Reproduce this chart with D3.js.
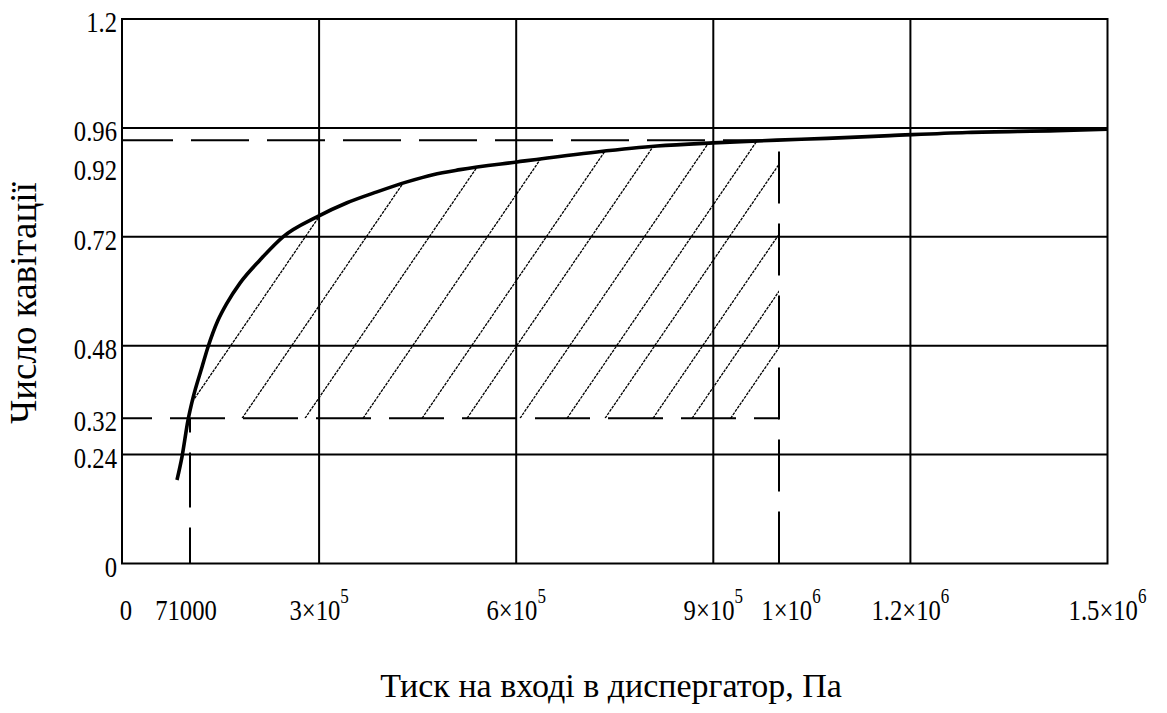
<!DOCTYPE html>
<html>
<head>
<meta charset="utf-8">
<script src="https://cdn.jsdelivr.net/npm/d3@7"></script>
<style>
  body { margin: 0; background: #fff; }
  text { font-family: "Liberation Serif", "Times New Roman", serif; fill: #000; }
</style>
</head>
<body>
<div id="chart"></div>
<script>
// Curve: cavitation number vs inlet pressure
var pressure = [83700, 91300, 100500, 108100, 121800, 130900, 146100, 159800, 179600,
    210100, 245100, 296800, 342500, 388100, 433800, 473400, 514500, 601200, 723000,
    814300, 899500, 996900, 1073000, 1168800, 1286200, 1423200, 1500000];
var cavitation = [0.184, 0.235, 0.316, 0.365, 0.433, 0.477, 0.536, 0.574, 0.618,
    0.669, 0.720, 0.764, 0.795, 0.819, 0.841, 0.857, 0.868, 0.885, 0.907,
    0.920, 0.927, 0.933, 0.937, 0.943, 0.950, 0.954, 0.957];

// Grid lines and their labels
var xGrid = [300000, 600000, 900000, 1200000];
var yGrid = [0.24, 0.48, 0.72, 0.96];
var xTickLabels = [
    {value: 0, base: "0", exp: ""},
    {value: 300000, base: "3×10", exp: "5"},
    {value: 600000, base: "6×10", exp: "5"},
    {value: 900000, base: "9×10", exp: "5"},
    {value: 1200000, base: "1.2×10", exp: "6"},
    {value: 1500000, base: "1.5×10", exp: "6"}
];
var yTickLabels = [
    {value: 0, label: "0"},
    {value: 0.24, label: "0.24"},
    {value: 0.48, label: "0.48"},
    {value: 0.72, label: "0.72"},
    {value: 0.96, label: "0.96"},
    {value: 1.2, label: "1.2"}
];

// Markers bounding the hatched area
var pLow = 103500, pHigh = 1000000;
var kLow = 0.32, kHigh = 0.933;
var xMarkerLabels = [
    {value: pLow, base: "71000", exp: ""},
    {value: pHigh, base: "1×10", exp: "6"}
];
var yMarkerLabels = [
    {value: kLow, label: "0.32"},
    {value: kHigh, label: "0.92"}
];

// Hatch lines: where each one leaves the 0.32 line, and their slope (per Pa)
var hatchStart = [89800, 182700, 278500, 366800, 456600, 525100, 605800, 677300,
    735200, 808200, 867600, 926300];
var hatchSlope = 2.114e-6;

var width = 1167, height = 713;
var margin = {left: 122, right: 1107.5, top: 19, bottom: 563.5};

var svg = d3.select("#chart").append("svg")
    .attr("width", width)
    .attr("height", height);

var x = d3.scaleLinear().domain([0, 1500000]).range([margin.left, margin.right]);
var y = d3.scaleLinear().domain([0, 1.2]).range([margin.bottom, margin.top]);

// grid
svg.selectAll(".vgrid")
    .data(xGrid)
    .enter().append("line")
    .attr("x1", d => x(d)).attr("x2", d => x(d))
    .attr("y1", y(0)).attr("y2", y(1.2))
    .style("stroke", "#000").style("stroke-width", 2);

svg.selectAll(".hgrid")
    .data(yGrid)
    .enter().append("line")
    .attr("x1", x(0)).attr("x2", x(1500000))
    .attr("y1", d => y(d)).attr("y2", d => y(d))
    .style("stroke", "#000").style("stroke-width", 2);

// hatching, clipped to the area under the curve, above 0.32 and left of 1e6
var defs = svg.append("defs");
defs.append("clipPath").attr("id", "box")
    .append("rect")
    .attr("x", x(0)).attr("y", y(1.2))
    .attr("width", x(pHigh) - x(0))
    .attr("height", y(kLow) - y(1.2));

var points = pressure.map((p, i) => [p, cavitation[i]]);
var under = d3.area()
    .x(d => x(d[0]))
    .y0(y(0))
    .y1(d => y(d[1]))
    .curve(d3.curveMonotoneX);
defs.append("clipPath").attr("id", "under")
    .append("path")
    .attr("d", under(points));

var hatch = svg.append("g").attr("clip-path", "url(#box)")
    .append("g").attr("clip-path", "url(#under)");
hatch.selectAll("line")
    .data(hatchStart)
    .enter().append("line")
    .attr("x1", d => x(d)).attr("y1", y(kLow))
    .attr("x2", d => x(d + 330000)).attr("y2", y(kLow + hatchSlope * 330000))
    .style("stroke", "#000")
    .style("stroke-width", 1.3)
    .style("stroke-dasharray", "3,1");

// dashed marker lines
function dashed(x1, y1, x2, y2, pattern, offset) {
    svg.append("line")
        .attr("x1", x(x1)).attr("y1", y(y1))
        .attr("x2", x(x2)).attr("y2", y(y2))
        .style("stroke", "#000")
        .style("stroke-width", 2)
        .style("stroke-dasharray", pattern)
        .style("stroke-dashoffset", offset);
}
dashed(0, kLow, pHigh, kLow, "55,18", 25);
dashed(0, kHigh, pHigh, kHigh, "58,18", 7);
dashed(pHigh, 0, pHigh, kHigh, "52,20", 0);
dashed(pLow, 0, pLow, kLow, "55,20", 19);

// frame
svg.append("rect")
    .attr("x", x(0)).attr("y", y(1.2))
    .attr("width", x(1500000) - x(0))
    .attr("height", y(0) - y(1.2))
    .style("fill", "none")
    .style("stroke", "#000")
    .style("stroke-width", 2);

// curve
var line = d3.line()
    .x(d => x(d[0]))
    .y(d => y(d[1]))
    .curve(d3.curveMonotoneX);
svg.append("path")
    .datum(points)
    .attr("d", line)
    .style("fill", "none")
    .style("stroke", "#000")
    .style("stroke-width", 3.6)
    .style("stroke-linejoin", "round");

// tick labels
var squeeze = 0.85;
var labelNudge = {"0": 4, "71000": -4, "1×10": 12};

function xLabel(d) {
    var t = svg.append("text")
        .attr("text-anchor", "middle")
        .attr("transform", "translate(" + (x(d.value) + (labelNudge[d.base] || 0)) + ",620) scale(" + squeeze + ",1)")
        .style("font-size", "29px");
    t.append("tspan").text(d.base);
    if (d.exp) {
        t.append("tspan").attr("dy", -17).style("font-size", "20px").text(d.exp);
    }
}
xTickLabels.forEach(xLabel);
xMarkerLabels.forEach(xLabel);

function yLabel(d, nudge) {
    svg.append("text")
        .attr("text-anchor", "end")
        .attr("transform", "translate(117," + (y(d.value) + 13 + nudge) + ") scale(" + squeeze + ",1)")
        .style("font-size", "29px")
        .text(d.label);
}
yTickLabels.forEach(d => yLabel(d, 0));
yMarkerLabels.forEach(d => yLabel(d, d.label === "0.92" ? 27 : 0));

// axis titles
svg.append("text")
    .attr("x", 611).attr("y", 697)
    .attr("text-anchor", "middle")
    .style("font-size", "34px")
    .text("Тиск на вході в диспергатор, Па");

svg.append("text")
    .attr("transform", "translate(36,303) rotate(-90)")
    .attr("text-anchor", "middle")
    .style("font-size", "37px")
    .text("Число кавітації");
</script>
</body>
</html>
